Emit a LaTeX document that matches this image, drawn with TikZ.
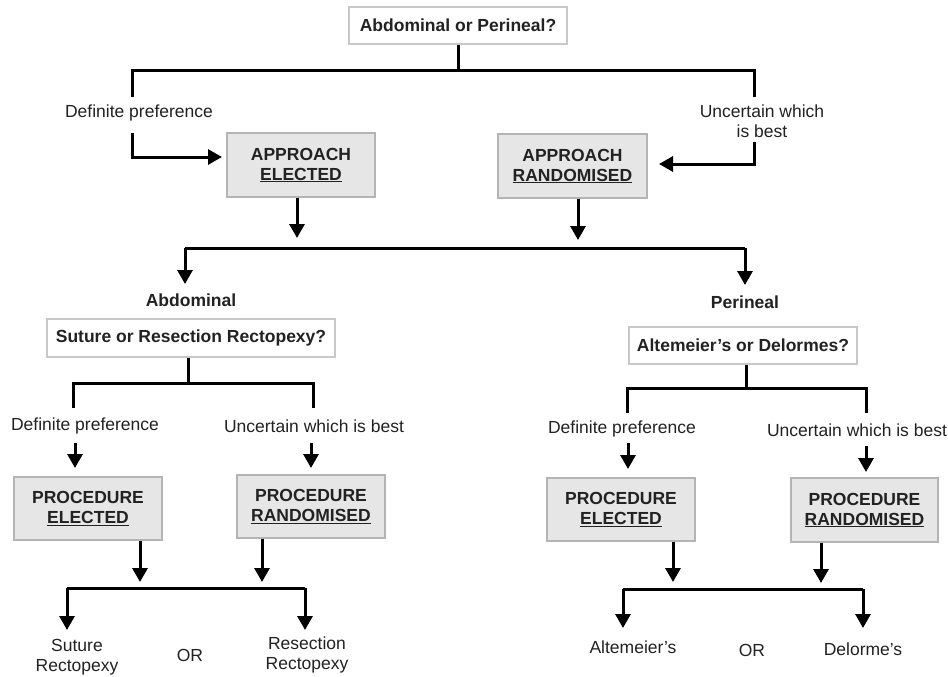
\documentclass[tikz,border=0pt]{standalone}
\usepackage{fontspec}
\setmainfont{Liberation Sans}
\usetikzlibrary{arrows.meta}
\definecolor{boxfill}{HTML}{E6E6E6}
\definecolor{boxdraw}{HTML}{B4B4B4}
\definecolor{qdraw}{HTML}{C8C8C8}
\definecolor{txt}{HTML}{222222}
\begin{document}
\begin{tikzpicture}[x=1pt,y=-1pt,
  every node/.style={font=\fontsize{17.5}{20}\selectfont, text=txt, align=center, inner sep=0pt},
  line/.style={line width=3pt, black},
  arr/.style={line width=3pt, black, -{Triangle[width=15pt,length=14pt]}},
  qbox/.style={draw=qdraw, line width=1.2pt, fill=white, font=\fontsize{17.5}{20}\selectfont\bfseries},
  dbox/.style={draw=boxdraw, line width=1.2pt, fill=boxfill, font=\fontsize{17.5}{20}\selectfont\bfseries, minimum width=148pt, minimum height=63pt},
  lbl/.style={font=\fontsize{17.5}{20}\selectfont},
  blbl/.style={font=\fontsize{17.5}{20}\selectfont\bfseries}
]
\useasboundingbox (0,0) rectangle (948,677);
\fill[white] (0,0) rectangle (948,677);

% ---------- top level ----------
\node[qbox, minimum width=218pt, minimum height=37pt] (q1) at (458,25.5) {Abdominal or Perineal?};
\node[dbox, minimum height=64pt] (ae) at (301,165) {APPROACH\\\underline{ELECTED}};
\node[dbox, minimum width=149pt, minimum height=64pt] (ar) at (572.5,166) {APPROACH\\\underline{RANDOMISED}};
\node[lbl] (dp0) at (139,113) {Definite preference};
\node[lbl] (uw0) at (762,121.5) {Uncertain which\\is best};

\coordinate (l1) at (132,71);
\coordinate (r1) at (754,71);
\coordinate (l1b) at (132,97);
\coordinate (r1b) at (754,97);
\coordinate (l1c) at (132,133);
\coordinate (r1c) at (754,142);
\coordinate (a1) at (222,157);
\coordinate (a2) at (659,164);

\draw[line] (q1.south) -- (q1.south |- l1);
\draw[line] (l1b) -- (l1) -- (r1) -- (r1b);
\draw[arr] (l1c) |- (a1);
\draw[arr] (r1c) |- (a2);

\coordinate (b1) at (297,238);
\coordinate (b2) at (578,240);
\draw[arr] (ae.south -| b1) -- (b1);
\draw[arr] (ar.south -| b2) -- (b2);

\coordinate (h1l) at (185,248);
\coordinate (h1r) at (745,248);
\coordinate (c1) at (185,284);
\coordinate (c2) at (745,285);
\draw[line] (h1l) -- (h1r);
\draw[arr] (h1l) -- (c1);
\draw[arr] (h1r) -- (c2);

\node[blbl] (abd) at (191,300) {Abdominal};
\node[blbl] (per) at (745,302) {Perineal};

% ---------- abdominal subtree ----------
\node[qbox, minimum width=288pt, minimum height=38pt] (q2) at (191,338) {Suture or Resection Rectopexy?};
\coordinate (h2) at (188,383);
\coordinate (h2l) at (73,383);
\coordinate (h2r) at (313,383);
\coordinate (h2lb) at (73,408);
\coordinate (h2rb) at (313,408);
\draw[line] (q2.south -| h2) -- (h2);
\draw[line] (h2lb) -- (h2l) -- (h2r) -- (h2rb);
\node[lbl] (dp1) at (85,426) {Definite preference};
\node[lbl] (uw1) at (314,426) {Uncertain which is best};
\coordinate (d1s) at (75,443);
\coordinate (d1e) at (75,468);
\coordinate (u1s) at (311,443);
\coordinate (u1e) at (311,468);
\draw[arr] (d1s) -- (d1e);
\draw[arr] (u1s) -- (u1e);

\node[dbox] (pe1) at (88,508.5) {PROCEDURE\\\underline{ELECTED}};
\node[dbox] (pr1) at (311,506.5) {PROCEDURE\\\underline{RANDOMISED}};
\coordinate (k1) at (140,582);
\coordinate (k2) at (262,582);
\draw[arr] (pe1.south -| k1) -- (k1);
\draw[arr] (pr1.south -| k2) -- (k2);
\coordinate (h3l) at (67,588);
\coordinate (h3r) at (305,588);
\coordinate (e1) at (67,630);
\coordinate (e2) at (305,630);
\draw[line] (h3l) -- (h3r);
\draw[arr] (h3l) -- (e1);
\draw[arr] (h3r) -- (e2);
\node[lbl] (sr) at (77,657.5) {Suture\\Rectopexy};
\node[lbl] (or1) at (190,655) {OR};
\node[lbl] (rr) at (307,655) {Resection\\Rectopexy};

% ---------- perineal subtree ----------
\node[qbox, minimum width=228pt, minimum height=37pt] (q3) at (743,345.5) {Altemeier’s or Delormes?};
\coordinate (h4) at (746,388);
\coordinate (h4l) at (627,388);
\coordinate (h4r) at (866,388);
\coordinate (h4lb) at (627,413);
\coordinate (h4rb) at (866,413);
\draw[line] (q3.south -| h4) -- (h4);
\draw[line] (h4lb) -- (h4l) -- (h4r) -- (h4rb);
\node[lbl] (dp2) at (622,429) {Definite preference};
\node[lbl] (uw2) at (857,430) {Uncertain which is best};
\coordinate (d2s) at (628,443);
\coordinate (d2e) at (628,469);
\coordinate (u2s) at (866,446);
\coordinate (u2e) at (866,472);
\draw[arr] (d2s) -- (d2e);
\draw[arr] (u2s) -- (u2e);

\node[dbox] (pe2) at (621,509.5) {PROCEDURE\\\underline{ELECTED}};
\node[dbox, minimum width=147pt, minimum height=64pt] (pr2) at (864.5,510) {PROCEDURE\\\underline{RANDOMISED}};
\coordinate (k3) at (673,582);
\coordinate (k4) at (821,583);
\draw[arr] (pe2.south -| k3) -- (k3);
\draw[arr] (pr2.south -| k4) -- (k4);
\coordinate (h5l) at (623,589);
\coordinate (h5r) at (863,589);
\coordinate (e3) at (623,628);
\coordinate (e4) at (863,628);
\draw[line] (h5l) -- (h5r);
\draw[arr] (h5l) -- (e3);
\draw[arr] (h5r) -- (e4);
\node[lbl] (alt) at (633,647) {Altemeier’s};
\node[lbl] (or2) at (752,650) {OR};
\node[lbl] (del) at (863,649) {Delorme’s};
\end{tikzpicture}
\end{document}
